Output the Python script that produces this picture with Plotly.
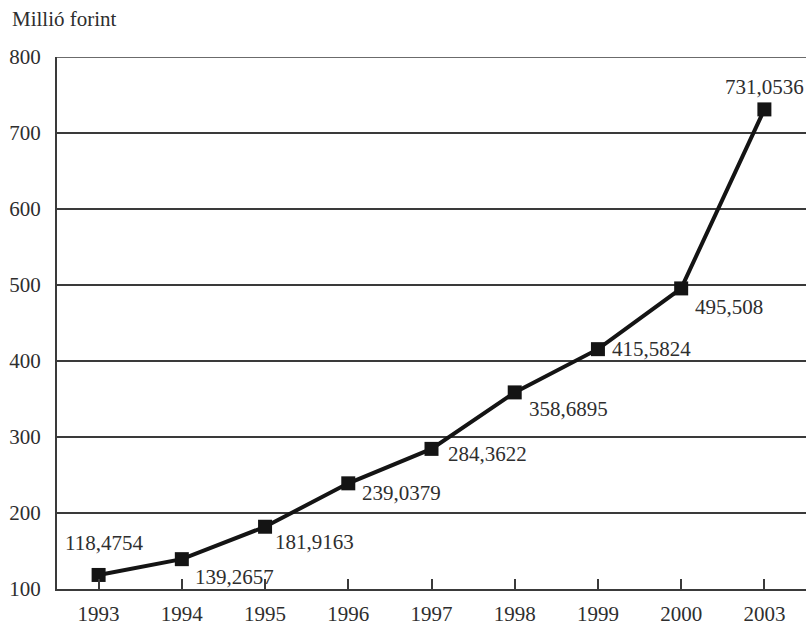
import plotly.graph_objects as go

# Yearly values, million forints
years = ["1993", "1994", "1995", "1996", "1997", "1998", "1999", "2000", "2003"]
values = [118.4754, 139.2657, 181.9163, 239.0379, 284.3622, 358.6895, 415.5824, 495.508, 731.0536]
labels = ["118,4754", "139,2657", "181,9163", "239,0379", "284,3622",
          "358,6895", "415,5824", "495,508", "731,0536"]

# label offsets (px) relative to each marker
label_pos = [
    (5, 32, "center"), (11, -18, "left"), (8, -15, "left"), (12, -10, "left"),
    (14, -5, "left"), (12, -17, "left"), (12, 0, "left"), (12, -19, "left"),
    (0, 22, "center"),
]

FONT = "Liberation Serif"
FS = 21
TXT = "#2e2e2e"
LINE = "#3a3a3a"

fig = go.Figure()
fig.add_trace(go.Scatter(
    x=years, y=values, mode="lines+markers",
    line=dict(color="#141414", width=4),
    marker=dict(symbol="square", size=14, color="#141414"),
    showlegend=False, hoverinfo="skip",
))

# category axis: annotations are placed by category index
for i, (v, lab, (dx, dy, anc)) in enumerate(zip(values, labels, label_pos)):
    fig.add_annotation(x=i, y=v, text=lab, showarrow=False,
                       xshift=dx, yshift=dy, xanchor=anc, yanchor="middle",
                       font=dict(family=FONT, size=FS, color=TXT))

fig.add_annotation(xref="paper", yref="paper", x=-47 / 749, y=1.045,
                   text="Millió forint", showarrow=False,
                   xanchor="left", yanchor="bottom",
                   font=dict(family=FONT, size=FS, color=TXT))

# top border line at 800
fig.add_shape(type="line", xref="paper", yref="y", x0=0, x1=1, y0=800, y1=800,
              line=dict(color=LINE, width=1.5))

fig.update_layout(
    width=806, height=626,
    margin=dict(l=57, r=0, t=57, b=37),
    paper_bgcolor="white", plot_bgcolor="white",
    font=dict(family=FONT, size=FS, color=TXT),
    xaxis=dict(
        type="category", range=[-0.5, 8.5],
        showline=True, linecolor=LINE, linewidth=2,
        ticks="inside", ticklen=10, tickwidth=1.5, tickcolor=LINE,
        showgrid=False, zeroline=False, ticklabelstandoff=5,
    ),
    yaxis=dict(
        range=[100, 800], dtick=100, tick0=100,
        showline=True, linecolor=LINE, linewidth=2,
        showgrid=True, gridcolor=LINE, gridwidth=1.5,
        ticks="", zeroline=False, ticklabelstandoff=10,
    ),
)

fig.write_html("out.html")
